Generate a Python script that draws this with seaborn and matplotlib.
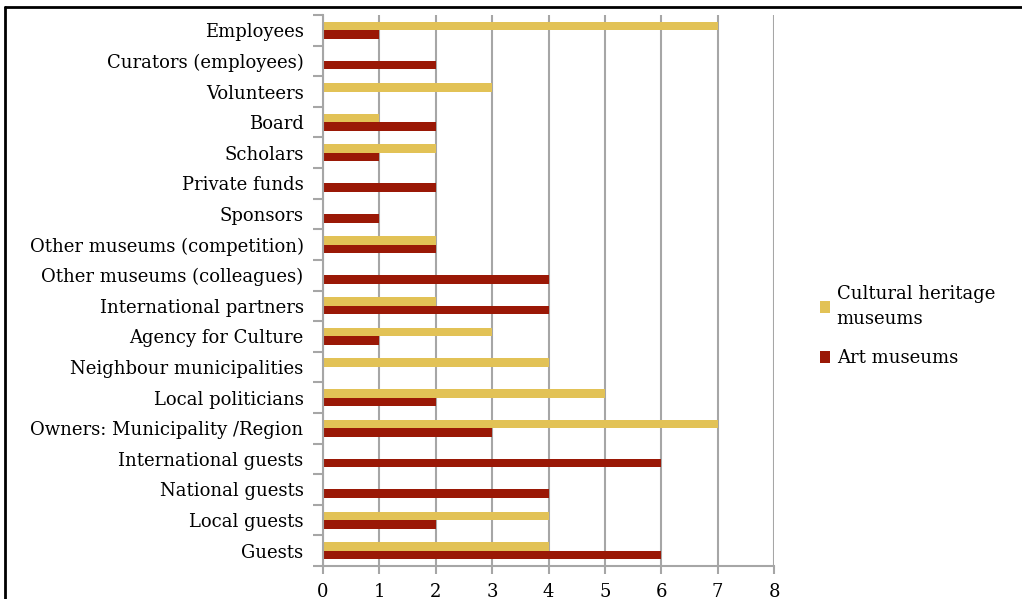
import matplotlib
matplotlib.use("Agg")
import matplotlib.pyplot as plt
from matplotlib.lines import Line2D
import seaborn as sns
import pandas as pd

categories = [
    "Employees", "Curators (employees)", "Volunteers", "Board", "Scholars",
    "Private funds", "Sponsors", "Other museums (competition)",
    "Other museums (colleagues)", "International partners", "Agency for Culture",
    "Neighbour municipalities", "Local politicians", "Owners: Municipality /Region",
    "International guests", "National guests", "Local guests", "Guests",
]
cultural_heritage = [7, 0, 3, 1, 2, 0, 0, 2, 0, 2, 3, 4, 5, 7, 0, 0, 4, 4]
art_museums = [1, 2, 0, 2, 1, 2, 1, 2, 4, 4, 1, 0, 2, 3, 6, 4, 2, 6]
series_names = ["Cultural heritage\nmuseums", "Art museums"]
x_ticks = [0, 1, 2, 3, 4, 5, 6, 7, 8]

df = pd.DataFrame({
    "category": categories * 2,
    "value": cultural_heritage + art_museums,
    "series": [series_names[0]] * len(categories) + [series_names[1]] * len(categories),
})

sns.set_style("white")
plt.rcParams["font.family"] = ["DejaVu Serif"]
plt.rcParams["text.color"] = "black"
plt.rcParams["xtick.labelcolor"] = "black"
plt.rcParams["ytick.labelcolor"] = "black"

fig = plt.figure(figsize=(10.22, 5.99), dpi=100)
ax = fig.add_axes([323 / 1022, 1 - 566 / 599, (774 - 323) / 1022, (566 - 15) / 599])

palette = {series_names[0]: "#E2C256", series_names[1]: "#9A1806"}
sns.barplot(data=df, y="category", x="value", hue="series", order=categories,
            hue_order=series_names, palette=palette, orient="h", width=0.56,
            dodge=True, saturation=1, linewidth=0, ax=ax, legend=True)

grid_c = "#A6A6A6"
ax.set_xlim(0, 8)
ax.set_ylim(len(categories) - 0.5, -0.5)
ax.set_xticks(x_ticks)
ax.set_xticklabels([str(t) for t in x_ticks])
ax.xaxis.grid(True, color=grid_c, linewidth=1.5)
ax.yaxis.grid(False)
ax.set_axisbelow(True)
for s in ["top", "right"]:
    ax.spines[s].set_visible(False)
for s in ["left", "bottom"]:
    ax.spines[s].set_color(grid_c)
    ax.spines[s].set_linewidth(1.5)

ax.set_yticks(range(len(categories)))
ax.set_yticklabels(categories)
ax.set_yticks([i - 0.5 for i in range(len(categories) + 1)], minor=True)
ax.tick_params(axis="y", which="major", length=0, pad=14, labelsize=13)
ax.tick_params(axis="y", which="minor", length=7, width=1.5, color=grid_c, left=True)
ax.tick_params(axis="x", which="major", length=6, width=1.5, color=grid_c,
               bottom=True, pad=6, labelsize=13)
ax.set_xlabel("")
ax.set_ylabel("")

leg = ax.legend(loc="center left", bbox_to_anchor=(1.065, 0.435), frameon=False,
                fontsize=13, handlelength=0.6, handleheight=0.6,
                handletextpad=0.35, labelspacing=1.2)
for t in leg.get_texts():
    t.set_linespacing(1.45)

# outer frame (top and left edges visible)
fig.add_artist(Line2D([5 / 1022, 1.0], [1 - 7 / 599, 1 - 7 / 599],
                      transform=fig.transFigure, color="black", linewidth=2))
fig.add_artist(Line2D([5 / 1022, 5 / 1022], [0, 1 - 7 / 599],
                      transform=fig.transFigure, color="black", linewidth=2))

fig.savefig("out.png", dpi=100)
